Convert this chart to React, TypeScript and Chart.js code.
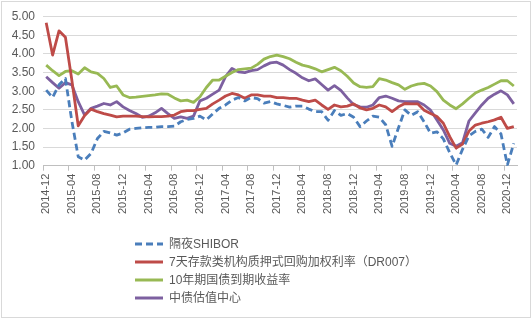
import React, { useEffect, useRef } from "react";
import { Chart, registerables } from "chart.js";

Chart.register(...registerables);

const months = [
  "2014-12",
  "2015-01", "2015-02", "2015-03", "2015-04", "2015-05", "2015-06", "2015-07", "2015-08", "2015-09", "2015-10", "2015-11", "2015-12",
  "2016-01", "2016-02", "2016-03", "2016-04", "2016-05", "2016-06", "2016-07", "2016-08", "2016-09", "2016-10", "2016-11", "2016-12",
  "2017-01", "2017-02", "2017-03", "2017-04", "2017-05", "2017-06", "2017-07", "2017-08", "2017-09", "2017-10", "2017-11", "2017-12",
  "2018-01", "2018-02", "2018-03", "2018-04", "2018-05", "2018-06", "2018-07", "2018-08", "2018-09", "2018-10", "2018-11", "2018-12",
  "2019-01", "2019-02", "2019-03", "2019-04", "2019-05", "2019-06", "2019-07", "2019-08", "2019-09", "2019-10", "2019-11", "2019-12",
  "2020-01", "2020-02", "2020-03", "2020-04", "2020-05", "2020-06", "2020-07", "2020-08", "2020-09", "2020-10", "2020-11", "2020-12",
  "2021-01",
];

const labelEvery = 4;

const shibor = [
  3.03, 2.83, 3.17, 3.34, 2.2, 1.24, 1.15, 1.33, 1.73, 1.92,
  1.88, 1.82, 1.88, 1.98, 2.0, 2.02, 2.03, 2.03, 2.05, 2.05,
  2.06, 2.18, 2.24, 2.27, 2.33, 2.23, 2.39, 2.54, 2.63, 2.76,
  2.83, 2.74, 2.83, 2.8, 2.68, 2.72, 2.66, 2.62, 2.57, 2.6,
  2.6, 2.52, 2.45, 2.45, 2.22, 2.48, 2.35, 2.4, 2.3, 2.05,
  2.2, 2.33, 2.3, 2.1, 1.52, 2.02, 2.5, 2.35, 2.45, 2.18,
  1.87, 1.91, 1.72, 1.35, 1.02, 1.44, 1.8, 1.92, 1.98, 1.76,
  2.05, 1.85, 1.02, 1.6,
];

const dr007 = [
  4.84, 3.97, 4.62, 4.45, 3.3, 2.07, 2.35, 2.52, 2.45, 2.4,
  2.36, 2.31, 2.33, 2.33, 2.33, 2.32, 2.31, 2.32, 2.32, 2.33,
  2.36, 2.45, 2.48, 2.48, 2.51, 2.54, 2.66, 2.76, 2.87, 2.94,
  2.9, 2.81, 2.9, 2.9, 2.87, 2.87, 2.83, 2.83, 2.81, 2.81,
  2.76, 2.72, 2.76, 2.63, 2.51, 2.63, 2.58, 2.6, 2.66, 2.55,
  2.5, 2.54, 2.63, 2.58, 2.45, 2.58, 2.67, 2.66, 2.66, 2.49,
  2.4, 2.32, 2.14, 1.78, 1.47, 1.58, 1.93, 2.09, 2.14, 2.18,
  2.23, 2.3, 2.0, 2.05,
];

const cgb10y = [
  3.7, 3.55, 3.42, 3.53, 3.55, 3.46, 3.63, 3.52, 3.48, 3.34,
  3.1, 3.14, 2.9, 2.83, 2.84, 2.86, 2.88, 2.9, 2.93, 2.92,
  2.82, 2.74, 2.76, 2.7, 2.85, 3.1, 3.3, 3.3, 3.4, 3.5,
  3.58, 3.6, 3.62, 3.72, 3.86, 3.93, 3.97, 3.93, 3.87, 3.78,
  3.7, 3.66, 3.6, 3.52, 3.58, 3.64, 3.55, 3.4, 3.22, 3.12,
  3.1, 3.12, 3.34, 3.3, 3.23, 3.17, 3.05, 3.14, 3.19, 3.21,
  3.14, 2.99, 2.76, 2.63, 2.53, 2.66, 2.81, 2.95, 3.03, 3.1,
  3.19, 3.28, 3.28, 3.14,
];

const chinabond = [
  3.39, 3.23, 3.08, 3.23, 3.17, 2.72, 2.36, 2.54, 2.6, 2.67,
  2.63, 2.72, 2.58, 2.48, 2.4, 2.3, 2.33, 2.42, 2.54, 2.4,
  2.27, 2.31, 2.27, 2.33, 2.74, 2.81, 2.92, 3.03, 3.39, 3.61,
  3.52, 3.5, 3.55, 3.58, 3.68, 3.76, 3.78, 3.7, 3.58, 3.48,
  3.36, 3.28, 3.33, 3.18, 3.03, 3.15, 3.02, 2.82, 2.64, 2.58,
  2.57, 2.63, 2.83, 2.87, 2.81, 2.74, 2.72, 2.72, 2.72, 2.63,
  2.49, 2.23, 1.96, 1.6, 1.52, 1.62, 2.2, 2.42, 2.63, 2.81,
  2.92, 3.01, 2.9, 2.66,
];

const seriesNames = [
  "隔夜SHIBOR",
  "7天存款类机构质押式回购加权利率（DR007）",
  "10年期国债到期收益率",
  "中债估值中心",
];

const yMin = 1;
const yMax = 5;
const yStep = 0.5;

const colors = ["#4a7ebb", "#be4b48", "#98b954", "#7d60a0"];
const dashes: number[][] = [[7, 4], [], [], []];
const FONT = '"Liberation Sans", "Noto Sans CJK SC", sans-serif';
const TEXT = "#595959";

export default function App() {
  const ref = useRef<HTMLCanvasElement | null>(null);

  useEffect(() => {
    document.body.style.margin = "0";
    const series = [shibor, dr007, cgb10y, chinabond];
    const chart = new Chart(ref.current as HTMLCanvasElement, {
      type: "line",
      data: {
        labels: months,
        datasets: series.map((d, k) => ({
          label: seriesNames[k],
          data: d,
          borderColor: colors[k],
          backgroundColor: colors[k],
          borderWidth: 2.8,
          borderDash: dashes[k],
          pointRadius: 0,
          tension: 0,
          borderJoinStyle: "round" as const,
          fill: false,
        })),
      },
      options: {
        responsive: false,
        animation: false,
        events: [],
        layout: { padding: { left: 0, right: 15, top: 16.7, bottom: 0 } },
        plugins: { legend: { display: false }, tooltip: { enabled: false } },
        scales: {
          x: {
            offset: true,
            grid: {
              offset: true,
              drawOnChartArea: false,
              tickLength: 5,
              color: (ctx: any) =>
                typeof ctx.index === "number" && ctx.index % labelEvery === 0 ? "#bfbfbf" : "rgba(0,0,0,0)",
            },
            border: { color: "#bfbfbf", width: 1 },
            ticks: {
              autoSkip: false,
              minRotation: 90,
              maxRotation: 90,
              padding: 3,
              color: TEXT,
              font: { family: FONT, size: 11 },
              callback: (_v: any, i: number) => (i % labelEvery === 0 ? months[i] : ""),
            },
            afterFit: (s: any) => {
              s.height = 322 - 165.7;
            },
          },
          y: {
            min: yMin,
            max: yMax,
            ticks: {
              stepSize: yStep,
              padding: 8,
              color: TEXT,
              font: { family: FONT, size: 12 },
              callback: (v: any) => Number(v).toFixed(2),
            },
            grid: { color: "#d9d9d9", drawTicks: false, lineWidth: 1 },
            border: { display: false },
            afterFit: (s: any) => {
              s.width = 43;
            },
          },
        },
      },
    });
    return () => chart.destroy();
  }, []);

  const rowCenters = [244, 262, 280, 298];

  return (
    <div style={{ position: "fixed", left: 0, top: 0, width: 532, height: 322, background: "#fff" }}>
      <canvas ref={ref} width={532} height={322} style={{ display: "block", width: 532, height: 322 }} />
      <div
        style={{
          position: "absolute",
          left: 1,
          top: 1,
          width: 528,
          height: 315,
          border: "1px solid #d9d9d9",
          pointerEvents: "none",
        }}
      />
      {seriesNames.map((name, k) => (
        <div
          key={name}
          style={{
            position: "absolute",
            left: 135,
            top: rowCenters[k] - 9,
            height: 18,
            display: "flex",
            alignItems: "center",
            whiteSpace: "nowrap",
          }}
        >
          <svg width={28} height={6} style={{ display: "block" }}>
            <line
              x1={0}
              y1={3}
              x2={28}
              y2={3}
              stroke={colors[k]}
              strokeWidth={3}
              strokeDasharray={dashes[k].length ? dashes[k].join(" ") : undefined}
            />
          </svg>
          <span style={{ marginLeft: 6, fontFamily: FONT, fontSize: 12, color: TEXT, lineHeight: "18px" }}>{name}</span>
        </div>
      ))}
    </div>
  );
}
